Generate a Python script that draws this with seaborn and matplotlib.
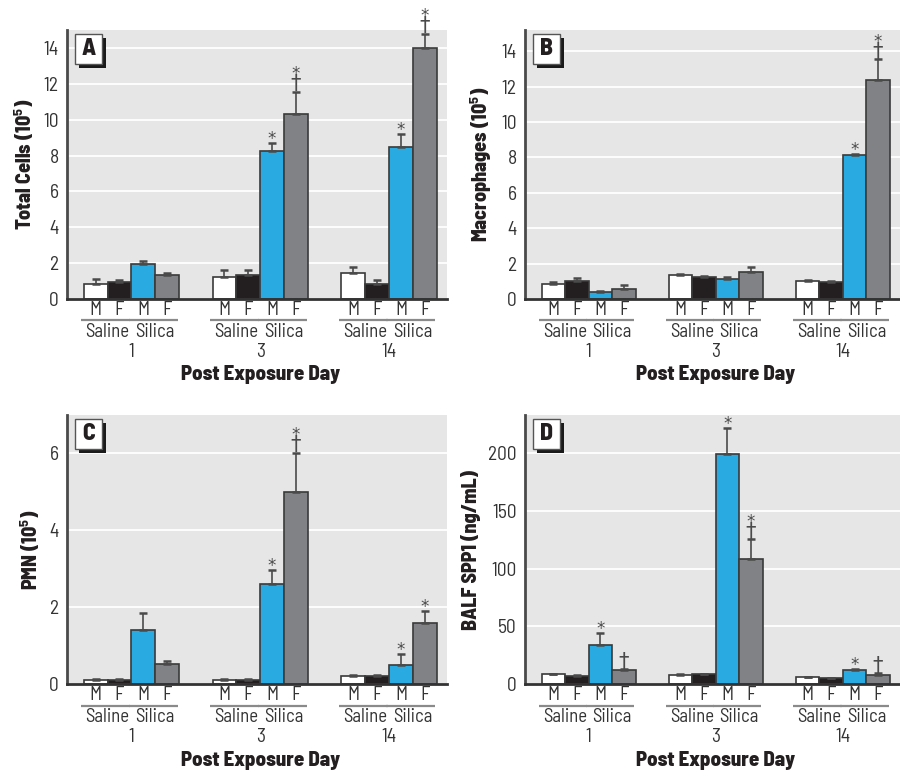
import numpy as np
import pandas as pd
import matplotlib
matplotlib.use("Agg")
import matplotlib.pyplot as plt
import matplotlib.transforms as mtransforms
from matplotlib.patches import Rectangle
import seaborn as sns

# ---------------- data ----------------
days = ["1", "3", "14"]
groups = ["Saline M", "Saline F", "Silica M", "Silica F"]
sex_labels = ["M", "F", "M", "F"]
treat_labels = ["Saline", "Silica"]

# rows = days (1, 3, 14); cols = groups
a_means = [[0.84, 0.97, 1.94, 1.36], [1.25, 1.34, 8.23, 10.3], [1.43, 0.84, 8.45, 14.0]]
a_err = [[0.26, 0.09, 0.18, 0.11], [0.35, 0.28, 0.47, 1.25], [0.37, 0.22, 0.73, 0.80]]
a_marks = [["", "", "", ""], ["", "", "*", "*†"], ["", "", "*", "*†"]]

b_means = [[0.85, 1.03, 0.38, 0.55], [1.33, 1.22, 1.11, 1.52], [1.01, 0.94, 8.16, 12.35]]
b_err = [[0.09, 0.17, 0.07, 0.24], [0.06, 0.08, 0.11, 0.28], [0.09, 0.06, 0.05, 1.20]]
b_marks = [["", "", "", ""], ["", "", "", ""], ["", "", "*", "*†"]]

c_means = [[0.10, 0.10, 1.40, 0.51], [0.10, 0.10, 2.59, 5.00], [0.20, 0.20, 0.50, 1.60]]
c_err = [[0.04, 0.04, 0.46, 0.10], [0.04, 0.04, 0.37, 1.02], [0.04, 0.03, 0.28, 0.29]]
c_marks = [["", "", "", ""], ["", "", "*", "*†"], ["", "", "*", "*"]]

d_means = [[8.4, 7.2, 33.7, 12.1], [8.1, 8.4, 198.8, 108.6], [5.8, 4.9, 11.8, 7.5]]
d_err = [[0.3, 0.3, 10.7, 0.6], [0.3, 0.3, 23.1, 16.8], [0.5, 0.2, 1.5, 1.7]]
d_marks = [["", "", "*", "†"], ["", "", "*", "*†"], ["", "", "*", "†"]]

panel_letters = ["A", "B", "C", "D"]
y_labels = [r"Total Cells (10$^{\mathbf{5}}$)", r"Macrophages (10$^{\mathbf{5}}$)",
            r"PMN (10$^{\mathbf{5}}$)", "BALF SPP1 (ng/mL)"]
y_limits = [(0, 15.0), (0, 15.2), (0, 7.0), (0, 233)]
y_ticks = [[0, 2, 4, 6, 8, 10, 12, 14], [0, 2, 4, 6, 8, 10, 12, 14], [0, 2, 4, 6], [0, 50, 100, 150, 200]]
x_title = "Post Exposure Day"

# ---------------- style ----------------
sns.set_theme(style="white")
FONT = ["Barlow Semi Condensed", "DejaVu Sans"]
plt.rcParams["font.family"] = FONT
plt.rcParams["mathtext.fontset"] = "custom"
plt.rcParams["mathtext.rm"] = "Barlow Semi Condensed"
plt.rcParams["mathtext.bf"] = "Barlow Semi Condensed:bold"

TXT = "#231f20"
MARK = "#4a4a4a"
palette = {"Saline M": "#ffffff", "Saline F": "#231f20", "Silica M": "#29abe2", "Silica F": "#808285"}
BG = "#e6e6e6"

fig = plt.figure(figsize=(9.0, 7.71), dpi=100)
W, H = 900, 771
# axes rectangles in pixels: (left, top, right, bottom)
rects_px = [(67, 30, 447, 299), (525, 30, 900, 299), (67, 415, 447, 684), (525, 415, 900, 684)]

panels = [(a_means, a_err, a_marks), (b_means, b_err, b_marks),
          (c_means, c_err, c_marks), (d_means, d_err, d_marks)]

PT = 72 / 100.0  # points per pixel

for i, ((means, errs, marks), (l, t, r, b)) in enumerate(zip(panels, rects_px)):
    ax = fig.add_axes([l / W, 1 - b / H, (r - l) / W, (b - t) / H])
    ax_h = b - t
    rows = []
    for di, d in enumerate(days):
        for gi, g in enumerate(groups):
            rows.append({"day": d, "group": g, "value": means[di][gi]})
    df = pd.DataFrame(rows)

    ax.set_facecolor(BG)
    ax.set_axisbelow(True)
    ax.yaxis.grid(True, color="white", linewidth=1.3)
    ax.xaxis.grid(False)

    sns.barplot(data=df, x="day", y="value", hue="group", order=days, hue_order=groups,
                palette=palette, saturation=1, width=0.74, edgecolor="#3a3a3a", linewidth=1.2,
                errorbar=None, legend=False, ax=ax, zorder=2)
    bar_conts = list(ax.containers)

    # error bars & significance marks from bar geometry
    for gi, cont in enumerate(bar_conts):
        for di, bar in enumerate(cont.patches):
            xc = bar.get_x() + bar.get_width() / 2
            top = bar.get_height()
            e = errs[di][gi]
            ax.errorbar([xc], [top], yerr=[[0], [e]], fmt="none", ecolor=MARK,
                        elinewidth=1.2, capsize=3, capthick=1.8, zorder=3, clip_on=False)
            m = marks[di][gi]
            yy = top + e
            if "†" in m:
                ax.annotate("†", xy=(xc, yy), xytext=(0, 1.5 * PT), textcoords="offset points",
                            ha="center", va="baseline", fontsize=15,
                            color=MARK, annotation_clip=False,
                            family=["DejaVu Sans"])
            if "*" in m:
                off = (12.5 if "†" in m else -1.0) * PT
                ax.annotate("*", xy=(xc, yy), xytext=(0, off), textcoords="offset points",
                            ha="center", va="baseline", fontsize=12, color=MARK,
                            annotation_clip=False, family=["DejaVu Sans"])

    ax.set_xlim(-0.5, 2.45)
    ax.set_ylim(*y_limits[i])
    ax.set_yticks(y_ticks[i])
    ax.set_yticklabels([str(v) for v in y_ticks[i]])
    ax.tick_params(axis="y", length=0, pad=6, labelsize=14, labelcolor="#333333")
    ax.tick_params(axis="x", length=0)
    ax.set_xticks([])
    ax.set_xlabel("")
    ax.set_ylabel(y_labels[i], fontsize=14.5, fontweight="heavy", color=TXT, labelpad=5)

    for s in ["top", "right"]:
        ax.spines[s].set_visible(False)
    ax.spines["left"].set_color("#4a4a4a")
    ax.spines["left"].set_linewidth(2)
    ax.spines["bottom"].set_color("#333333")
    ax.spines["bottom"].set_linewidth(2)

    # hierarchical x labels
    blend = mtransforms.blended_transform_factory(ax.transData, ax.transAxes)
    centers = [[bar.get_x() + bar.get_width() / 2 for bar in cont.patches] for cont in bar_conts]
    bw = bar_conts[0].patches[0].get_width()
    for di, d in enumerate(days):
        for gi in range(4):
            ax.annotate(sex_labels[gi], xy=(centers[gi][di], 0), xycoords=("data", "axes fraction"),
                        xytext=(0, -11 * PT), textcoords="offset points", ha="center", va="center",
                        fontsize=14, color="#333333")
        for ti in range(2):
            xl = centers[2 * ti][di] - bw / 2 - 0.02
            xr = centers[2 * ti + 1][di] + bw / 2 - 0.01
            ax.plot([xl, xr], [-21.5 / ax_h] * 2, transform=blend, color="#8a8a8a",
                    linewidth=1.6, clip_on=False, solid_capstyle="butt")
            xm = (centers[2 * ti][di] + centers[2 * ti + 1][di]) / 2
            ax.annotate(treat_labels[ti], xy=(xm, 0), xycoords=("data", "axes fraction"),
                        xytext=(0, -33.5 * PT), textcoords="offset points", ha="center",
                        va="center", fontsize=13.5, color="#333333")
        dc = (centers[0][di] + centers[3][di]) / 2
        ax.annotate(d, xy=(dc, 0), xycoords=("data", "axes fraction"),
                    xytext=(0, -53 * PT), textcoords="offset points", ha="center",
                    va="center", fontsize=14, color="#333333")
    mid = (centers[0][1] + centers[3][1]) / 2
    ax.annotate(x_title, xy=(mid, 0), xycoords=("data", "axes fraction"),
                xytext=(0, -76 * PT), textcoords="offset points", ha="center", va="center",
                fontsize=15, fontweight="heavy", color=TXT)

    # panel letter box with shadow
    bx, by = l + 8, t + 4
    fig.patches.append(Rectangle(((bx + 4) / W, 1 - (by + 34) / H), 27 / W, 30 / H,
                                 transform=fig.transFigure, facecolor="#1a1a1a",
                                 edgecolor="none", zorder=5))
    fig.patches.append(Rectangle((bx / W, 1 - (by + 30) / H), 27 / W, 30 / H,
                                 transform=fig.transFigure, facecolor="white",
                                 edgecolor="#555555", linewidth=1.0, zorder=6))
    fig.text((bx + 13.5) / W, 1 - (by + 15) / H, panel_letters[i], ha="center", va="center",
             fontsize=17, fontweight="heavy", color=TXT, zorder=7)

fig.savefig("out.png", dpi=100, facecolor="white")
